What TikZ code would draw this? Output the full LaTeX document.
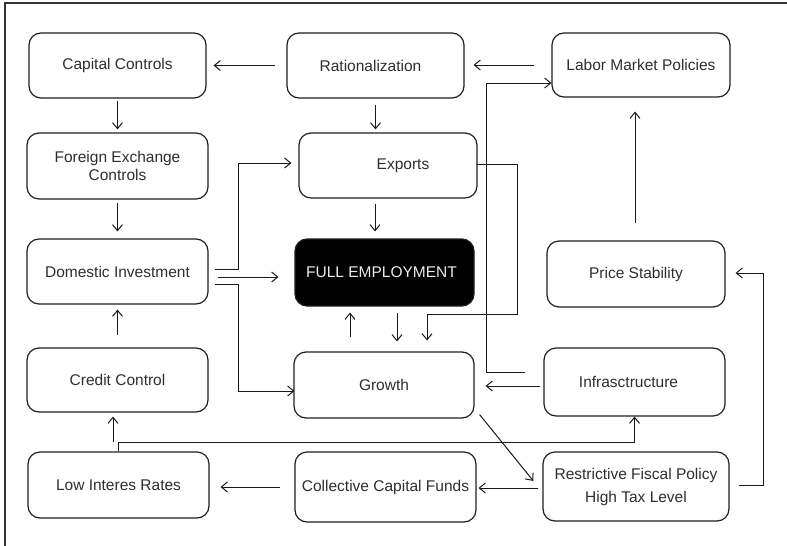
\documentclass[tikz,border=0pt]{standalone}
\usepackage{fontspec}
\setmainfont{Liberation Sans}
\usetikzlibrary{arrows.meta,calc}
\begin{document}
\begin{tikzpicture}[x=1pt,y=-1pt,
  box/.style={draw=black!88, line width=1.2pt, rounded corners=12pt, align=center,
    text=black!82, font=\fontsize{15.5}{18}\selectfont, inner sep=0pt},
  dark/.style={box, fill=black, text=white!92!black},
  arr/.style={line width=1pt, black!90, -{Straight Barb[length=6pt,width=10pt]}}]
\useasboundingbox (0,0) rectangle (787,546);
\draw[line width=1.2pt, black!80] (5,546) -- (5,3) -- (787,3);

\node[box, minimum width=177pt, minimum height=65pt] (cap) at (117.5,65.5) {Capital Controls};
\node[box, minimum width=177pt, minimum height=65pt] (rat) at (375.5,65.5) {Rationalization\hspace*{10pt}};
\node[box, minimum width=178pt, minimum height=64pt] (lab) at (641,65) {Labor Market Policies};
\node[box, minimum width=181pt, minimum height=66pt] (fx) at (117.5,166) {Foreign Exchange\\Controls};
\node[box, minimum width=178pt, minimum height=65pt] (exp) at (388,165.5) {\hspace*{30pt}Exports};
\node[dark, minimum width=179pt, minimum height=67pt] (full) at (384.5,272.5) {FULL EMPLOYMENT\hspace*{6pt}};
\node[box, minimum width=181pt, minimum height=65pt] (dom) at (117.5,271.5) {Domestic Investment};
\node[box, minimum width=178pt, minimum height=66pt] (price) at (636,274) {Price Stability};
\node[box, minimum width=181pt, minimum height=64pt] (cred) at (117.5,380) {Credit Control};
\node[box, minimum width=180pt, minimum height=66pt] (grow) at (384,385) {Growth};
\node[box, minimum width=181pt, minimum height=68pt] (inf) at (634.5,382) {Infrasctructure\hspace*{12pt}};
\node[box, minimum width=181pt, minimum height=66pt] (low) at (118.5,485) {Low Interes Rates};
\node[box, minimum width=181pt, minimum height=70pt] (coll) at (385.5,487) {Collective Capital Funds};
\node[box, minimum width=186pt, minimum height=69pt] (rfp) at (636,486.5) {Restrictive Fiscal Policy\\[5pt]High Tax Level};

\draw[arr] ($(rat.west)+(-11,0)$) -- ($(cap.east)+(7,0)$);
\draw[arr] ($(lab.west)+(-17,0)$) -- ($(rat.east |- lab.west)+(9,0)$);
\draw[arr] ($(cap.south)+(0,2)$) -- ($(fx.north)+(0,-3)$);
\draw[arr] ($(rat.south)+(0,6)$) -- ($(rat.south |- exp.north)+(0,-3)$);
\draw[arr] ($(fx.south)+(0,3)$) -- ($(dom.north)+(0,-7)$);
\draw[arr] ($(exp.south)+(-13,5)$) -- ($(full.north)+(-9.5,-7)$);
\draw[arr] ($(dom.east)+(6,-2.5)$) -- ++(24,0) |- ($(exp.west)+(-7,-2.5)$);
\draw[arr] ($(dom.east)+(9,5.5)$) -- ($(full.west)+(-16,4.5)$);
\draw[arr] ($(dom.east)+(6,12.5)$) -- ++(24,0) |- ($(grow.west)+(1,6)$);
\draw[arr] ($(grow.north)+(-34,-14)$) -- ($(full.south)+(-34.5,6)$);
\draw[arr] ($(full.south)+(12.5,6)$) -- ($(grow.north)+(13,-10)$);
\draw[arr] ($(exp.east)+(-1,-1.5)$) -- ++(41,0) -- ++(0,150) -| ($(grow.north)+(43,-11)$);
\draw[arr] ($(inf.west)+(-18,-10)$) -- ++(-39,0) |- ($(lab.west)+(0,18)$);
\draw[arr] ($(inf.west)+(-3,4)$) -- ($(grow.east)+(11,1)$);
\draw[arr] ($(grow.south east)+(5,-4)$) -- ($(rfp.west)+(-9,-5.5)$);
\draw[arr] ($(rfp.west)+(-4,1.5)$) -- ($(coll.east)+(2,1)$);
\draw[arr] ($(coll.west)+(-14,0)$) -- ($(low.east)+(11,2)$);
\draw[arr] ($(rfp.east)+(9,-1.5)$) -- ++(25,0) |- ($(price.east)+(10,-1)$);
\draw[arr] ($(price.north)+(-1,-17)$) -- ($(lab.south)+(-6,14)$);
\draw[arr] ($(low.north)+(-0.5,0)$) -- ++(0,-9) -| (inf.south);
\draw[arr] ($(low.north)+(-5.5,-9)$) -- ($(cred.south)+(-4.5,4)$);
\draw[arr] ($(cred.north)+(0,-12)$) -- ($(dom.south)+(0,5)$);
\end{tikzpicture}
\end{document}
